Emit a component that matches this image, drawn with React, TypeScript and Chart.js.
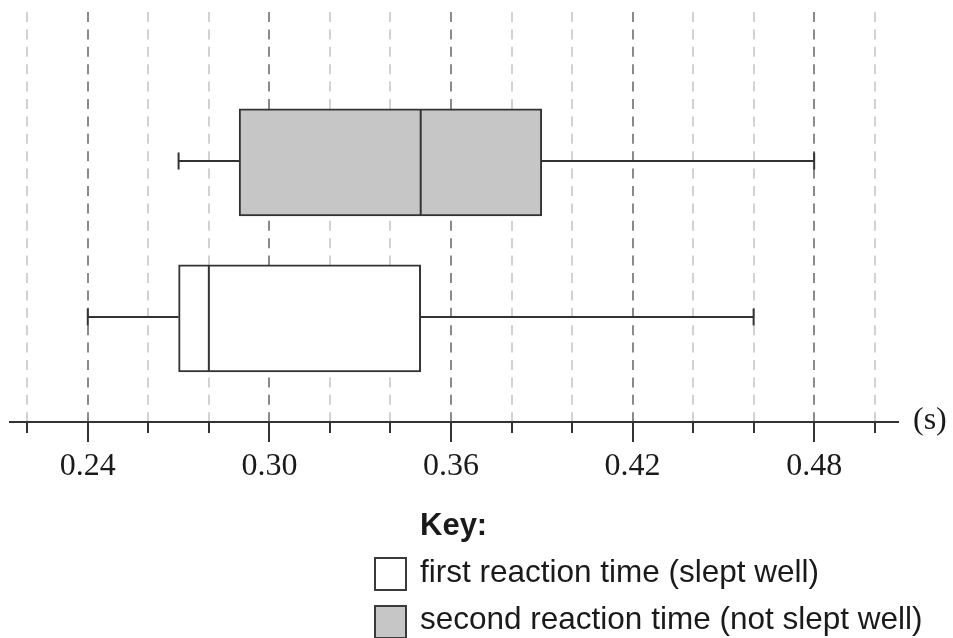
import React, { useEffect, useRef } from 'react';
import { Chart, registerables } from 'chart.js';

Chart.register(...registerables);

// ---- data ----
const SERIES = ['second reaction time (not slept well)', 'first reaction time (slept well)'];
const MINS = [0.27, 0.24];
const Q1S = [0.29, 0.27];
const MEDIANS = [0.35, 0.28];
const Q3S = [0.39, 0.35];
const MAXS = [0.48, 0.46];
const FILLS = ['#c6c6c6', '#ffffff'];
const ROW_POS = [1.664, 0.664];
const TICK_VALUES = [0.22, 0.24, 0.26, 0.28, 0.3, 0.32, 0.34, 0.36, 0.38, 0.4, 0.42, 0.44, 0.46, 0.48, 0.5];
const LABELED_TICKS = [0.24, 0.3, 0.36, 0.42, 0.48];
const UNIT_LABEL = '(s)';
const KEY_TITLE = 'Key:';
const KEY_ORDER = [1, 0];

const INK = '#1a1a1a';
const LINE = '#333333';

const boxPlugin = {
  id: 'boxWhiskers',
  afterDatasetsDraw(chart: any) {
    const meta = chart.getDatasetMeta(0);
    const xs = chart.scales.x;
    const ctx = chart.ctx;
    const px = (v: number) => xs.getPixelForValue(v);
    ctx.save();
    ctx.strokeStyle = LINE;
    ctx.lineWidth = 2;
    meta.data.forEach((bar: any, i: number) => {
      const y = Math.round(bar.y) - 1;
      const half = (bar.height || 107) / 2;
      ctx.beginPath();
      ctx.moveTo(px(MINS[i]), y);
      ctx.lineTo(px(Q1S[i]), y);
      ctx.moveTo(px(Q3S[i]), y);
      ctx.lineTo(px(MAXS[i]), y);
      ctx.moveTo(px(MINS[i]), y - 8.5);
      ctx.lineTo(px(MINS[i]), y + 8.5);
      ctx.moveTo(px(MAXS[i]), y - 8.5);
      ctx.lineTo(px(MAXS[i]), y + 8.5);
      ctx.moveTo(px(MEDIANS[i]), bar.y - half);
      ctx.lineTo(px(MEDIANS[i]), bar.y + half);
      ctx.stroke();
    });
    ctx.restore();
  },
  afterDraw(chart: any) {
    const xs = chart.scales.x;
    const ctx = chart.ctx;
    const bottom = chart.chartArea.bottom;
    ctx.save();
    ctx.strokeStyle = LINE;
    ctx.lineWidth = 2;
    xs.ticks.forEach((t: any, i: number) => {
      const x = Math.round(xs.getPixelForTick(i));
      const len = LABELED_TICKS.includes(t.value) ? 20 : 11;
      ctx.beginPath();
      ctx.moveTo(x, bottom);
      ctx.lineTo(x, bottom + len);
      ctx.stroke();
    });
    ctx.fillStyle = INK;
    ctx.font = '32px "Liberation Serif"';
    ctx.textBaseline = 'middle';
    ctx.textAlign = 'left';
    ctx.fillText(UNIT_LABEL, chart.chartArea.right + 15, bottom - 1);
    ctx.restore();
  },
};

export default function App() {
  const ref = useRef<HTMLCanvasElement | null>(null);

  useEffect(() => {
    if (!ref.current) return;
    const chart = new Chart(ref.current, {
      type: 'bar',
      data: {
        labels: SERIES,
        datasets: [
          {
            label: 'reaction time',
            data: SERIES.map((_, i) => ({ x: [Q1S[i], Q3S[i]], y: ROW_POS[i] })) as any,
            backgroundColor: FILLS,
            borderColor: LINE,
            borderWidth: 2,
            borderSkipped: false,
            barThickness: 107,
          },
        ],
      },
      options: {
        indexAxis: 'y',
        animation: false,
        responsive: false,
        maintainAspectRatio: false,
        layout: { padding: { left: 10, right: 55, top: 12, bottom: 0 } },
        plugins: { legend: { display: false }, tooltip: { enabled: false } },
        scales: {
          y: {
            type: 'linear',
            display: false,
            offset: false,
            min: 0,
            max: 2.628,
          },
          x: {
            type: 'linear',
            min: 0.2143,
            max: 0.5077,
            afterBuildTicks: (scale: any) => {
              scale.ticks = TICK_VALUES.map((v) => ({ value: v }));
            },
            afterFit: (scale: any) => {
              scale.height = 216;
            },
            grid: {
              drawTicks: false,
              lineWidth: 2,
              color: (c: any) =>
                c.tick && LABELED_TICKS.includes(c.tick.value) ? '#8a8a8a' : '#d2d2d2',
            },
            border: { display: true, color: LINE, width: 2, dash: [10, 7.4] },
            ticks: {
              autoSkip: false,
              maxRotation: 0,
              padding: 25,
              color: INK,
              font: { family: '"Liberation Serif"', size: 32 },
              callback: (value: any) =>
                LABELED_TICKS.includes(Number(value)) ? Number(value).toFixed(2) : '',
            },
          },
        },
      },
      plugins: [boxPlugin],
    });
    return () => chart.destroy();
  }, []);

  return (
    <div
      style={{
        position: 'fixed',
        left: 0,
        top: 0,
        width: 953,
        height: 638,
        overflow: 'hidden',
        background: '#fff',
      }}
    >
      <canvas ref={ref} width={953} height={638} style={{ position: 'absolute', left: 0, top: 0 }} />
      <div
        style={{
          position: 'absolute',
          left: 420,
          top: 507,
          font: 'bold 31px "Liberation Sans"',
          lineHeight: '36px',
          color: INK,
          whiteSpace: 'nowrap',
        }}
      >
        {KEY_TITLE}
      </div>
      {KEY_ORDER.map((idx, r) => (
        <React.Fragment key={idx}>
          <div
            style={{
              position: 'absolute',
              left: 374,
              top: 557 + r * 48,
              width: 29,
              height: 30,
              border: '2px solid #3a3a3a',
              background: FILLS[idx],
            }}
          />
          <div
            style={{
              position: 'absolute',
              left: 420,
              top: 553 + r * 47,
              font: '31.5px "Liberation Sans"',
              lineHeight: '36px',
              color: INK,
              whiteSpace: 'nowrap',
            }}
          >
            {SERIES[idx]}
          </div>
        </React.Fragment>
      ))}
    </div>
  );
}
